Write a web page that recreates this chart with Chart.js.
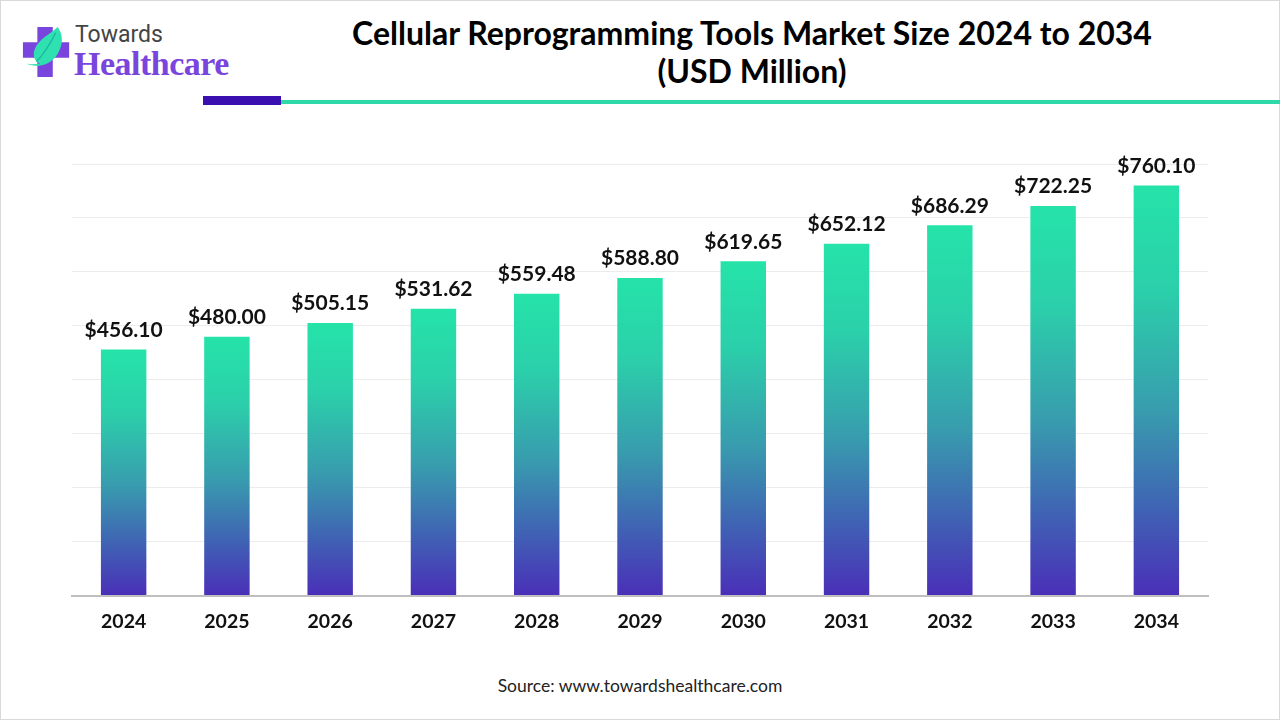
<!DOCTYPE html>
<html>
<head>
<meta charset="utf-8">
<script src="https://cdn.jsdelivr.net/npm/chart.js@4.4.1/dist/chart.umd.min.js"></script>
<style>
  html, body { margin:0; padding:0; background:#fff; }
  body { width:1280px; height:720px; position:relative; overflow:hidden; font-family: Lato, "Open Sans", sans-serif; }
  .frame { position:absolute; left:0; top:0; width:1278px; height:718px; border:1px solid #d9d9d9; }
  .title { position:absolute; left:232px; width:1040px; top:14px; text-align:center; font-family: Lato, sans-serif; font-weight:700; font-size:32px; line-height:38px; color:#000; }
  .barPurple { position:absolute; left:203px; top:96px; width:78px; height:9px; background:#3a10b0; }
  .lineTeal { position:absolute; left:281px; top:100px; width:999px; height:4px; background:#2ed8a8; }
  .logoTowards { position:absolute; left:75px; top:21px; font-family: Roboto, sans-serif; font-size:23px; color:#444; }
  .logoHealth { position:absolute; left:74px; top:45px; font-family: "Liberation Serif", serif; font-weight:700; font-size:34px; color:#7a45dc; letter-spacing:-0.5px; }
  .source { position:absolute; left:0; width:1280px; top:675px; text-align:center; font-family: Lato, sans-serif; font-size:17.5px; color:#222; }
  #wrap { position:absolute; left:0; top:110px; width:1280px; height:552px; }
</style>
</head>
<body>
<div class="frame"></div>
<svg style="position:absolute;left:21px;top:25px" width="52" height="54" viewBox="0 0 54 56">
  <path d="M17 2 H33 V18 H50 V34 H33 V54 H17 V34 H2 V18 H17 Z" fill="#7a45dc"/>
  <path d="M6 40 C 12 44, 30 44, 38 30 C 44 20, 44 10, 38 2 C 30 10, 18 14, 14 26 C 12 32, 14 38, 20 40 C 14 41, 9 41, 6 40 Z" fill="#2fe0b0"/>
  <path d="M16 38 C 24 30, 30 20, 36 8" stroke="#1bb8a0" stroke-width="1.5" fill="none"/>
</svg>
<div class="logoTowards">Towards</div>
<div class="logoHealth">Healthcare</div>
<div class="title">Cellular Reprogramming Tools Market Size 2024 to 2034<br>(USD Million)</div>
<div class="barPurple"></div>
<div class="lineTeal"></div>
<div id="wrap"><canvas id="c" width="1280" height="552"></canvas></div>
<div class="source">Source: www.towardshealthcare.com</div>
<script>
const years = ["2024","2025","2026","2027","2028","2029","2030","2031","2032","2033","2034"];
const marketSize = [456.10, 480.00, 505.15, 531.62, 559.48, 588.80, 619.65, 652.12, 686.29, 722.25, 760.10];
const yMax = 800;
const yStep = 100;

const labelPlugin = {
  id: 'barLabels',
  afterDatasetsDraw(chart) {
    const ctx = chart.ctx;
    const meta = chart.getDatasetMeta(0);
    ctx.save();
    ctx.font = 'bold 21px Lato, sans-serif';
    ctx.fillStyle = '#111';
    ctx.textAlign = 'center';
    ctx.textBaseline = 'bottom';
    meta.data.forEach((bar, i) => {
      ctx.fillText('$' + marketSize[i].toFixed(2), bar.x, bar.y - 9);
    });
    ctx.restore();
  }
};

function barGradient(context) {
  const chart = context.chart;
  const area = chart.chartArea;
  if (!area) return '#25e0a8';
  const y = chart.scales.y;
  const v = context.raw;
  const top = y.getPixelForValue(v);
  const bottom = y.getPixelForValue(0);
  const g = chart.ctx.createLinearGradient(0, top, 0, bottom);
  g.addColorStop(0, '#25e3a9');
  g.addColorStop(0.25, '#2bd0aa');
  g.addColorStop(0.55, '#389cae');
  g.addColorStop(0.8, '#4060b4');
  g.addColorStop(1, '#4a2fb8');
  return g;
}

new Chart(document.getElementById('c'), {
  type: 'bar',
  data: {
    labels: years,
    datasets: [{
      data: marketSize,
      backgroundColor: barGradient,
      borderWidth: 0,
      categoryPercentage: 1.0,
      barPercentage: 0.44
    }]
  },
  options: {
    responsive: false,
    animation: false,
    layout: { padding: { left: 72, right: 72, top: 54, bottom: 15 } },
    plugins: { legend: { display: false }, tooltip: { enabled: false } },
    scales: {
      x: {
        grid: { display: false, drawTicks: false },
        border: { display: true, color: '#bfbfbf', width: 2 },
        ticks: { color: '#111', font: { family: 'Lato, sans-serif', size: 19.5, weight: 'bold' }, padding: 14 }
      },
      y: {
        min: 0, max: yMax,
        ticks: { display: false, stepSize: yStep },
        grid: { color: '#ececec', lineWidth: 1, drawTicks: false },
        border: { display: false }
      }
    }
  },
  plugins: [labelPlugin]
});
</script>
</body>
</html>
